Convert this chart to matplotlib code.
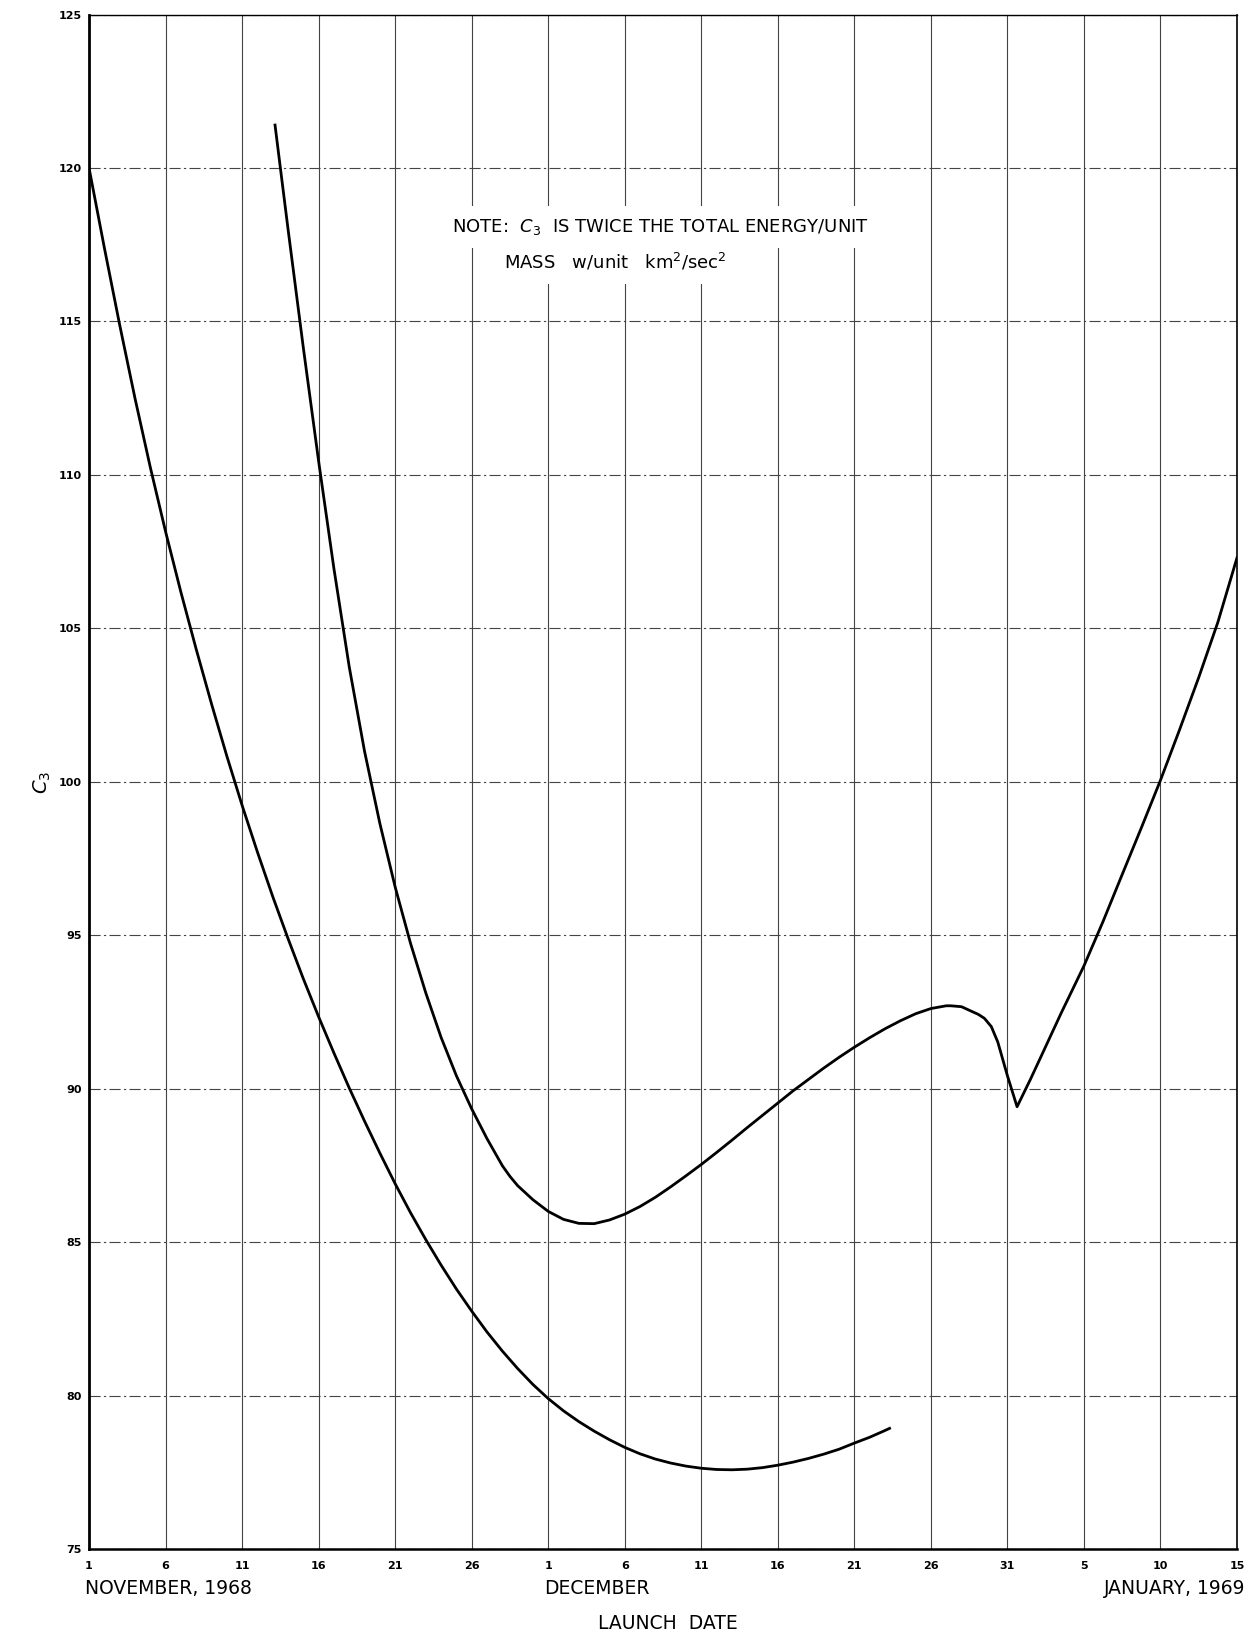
import matplotlib.pyplot as plt
import numpy as np

# days counted from Nov 1 1968 (0) to Jan 15 1969 (75)
lower_day = [0, 1, 2, 3, 4, 5, 6, 7, 8, 9, 10, 11, 12, 13, 14, 15, 16, 17, 18,
             19, 20, 21, 22, 23, 24, 25, 26, 27, 28, 29, 30, 31, 32, 33, 34, 35,
             36, 37, 38, 39, 40, 41, 42, 43, 44, 45, 46, 47, 48, 49, 50, 51, 52, 52.3]
lower_c3 = [120.0, 117.4, 114.89, 112.5, 110.25, 108.15, 106.18, 104.32, 102.54,
            100.84, 99.23, 97.71, 96.26, 94.89, 93.58, 92.34, 91.16, 90.02, 88.94,
            87.9, 86.9, 85.96, 85.08, 84.25, 83.47, 82.75, 82.07, 81.45, 80.88,
            80.36, 79.9, 79.5, 79.15, 78.84, 78.56, 78.31, 78.1, 77.93, 77.8, 77.7,
            77.63, 77.59, 77.58, 77.6, 77.65, 77.73, 77.83, 77.95, 78.09, 78.25,
            78.45, 78.64, 78.86, 78.93]

upper_day = [12.15, 12.5, 13, 14, 15, 16, 17, 18, 19, 20, 21, 22, 23, 24, 25, 26,
             27, 27.5, 28, 29, 30, 31, 32, 33, 34, 35, 36, 37, 38, 39, 40, 41, 42,
             43, 44, 45, 46, 47, 48, 49, 50, 51, 52, 53, 54, 55, 56, 56.3, 57,
             57.7, 58.1, 58.5, 58.95, 59.37, 60.0, 60.63, 61.5, 62.33, 63.5, 65,
             66.25, 67.5, 68.75, 70, 71.25, 72.5, 73.75, 75]
upper_c3 = [121.4, 120.0, 118.01, 114.14, 110.44, 106.94, 103.74, 100.99, 98.64,
            96.57, 94.74, 93.12, 91.67, 90.42, 89.34, 88.37, 87.49, 87.14, 86.84,
            86.38, 86.0, 85.74, 85.61, 85.6, 85.72, 85.91, 86.16, 86.46, 86.8,
            87.16, 87.53, 87.92, 88.32, 88.73, 89.13, 89.53, 89.93, 90.3, 90.67,
            91.02, 91.35, 91.66, 91.95, 92.21, 92.44, 92.61, 92.7, 92.7, 92.67,
            92.51, 92.42, 92.29, 92.02, 91.52, 90.42, 89.41, 90.3, 91.19, 92.45,
            94.0, 95.45, 96.98, 98.5, 100.05, 101.7, 103.4, 105.2, 107.3]

tick_days = np.arange(0, 76, 5)
tick_labels = ['1', '6', '11', '16', '21', '26', '1', '6', '11', '16', '21', '26',
               '31', '5', '10', '15']
y_ticks = np.arange(75, 126, 5)

fig = plt.figure(figsize=(12.49, 16.36), dpi=100)
ax = fig.add_axes([0.0713, 0.0532, 0.9191, 0.9379])

for d in tick_days:
    ax.axvline(d, color='#444444', lw=0.8, zorder=1)
for v in y_ticks:
    ax.axhline(v, color='#444444', lw=0.8, ls=(0, (10, 3, 2, 3)), zorder=1)

ax.plot(lower_day, lower_c3, color='black', lw=2.0, zorder=3)
ax.plot(upper_day, upper_c3, color='black', lw=2.0, zorder=3)

ax.set_xlim(0, 75)
ax.set_ylim(75, 125)
ax.set_xticks(tick_days)
ax.set_xticklabels(tick_labels, fontsize=8, fontweight='bold')
ax.set_yticks(y_ticks)
ax.set_yticklabels([str(v) for v in y_ticks], fontsize=8, fontweight='bold')
ax.tick_params(axis='x', length=0, pad=9)
ax.tick_params(axis='y', length=0, pad=5)

ax.spines['left'].set_linewidth(2.0)
ax.spines['bottom'].set_linewidth(1.8)
ax.spines['top'].set_linewidth(1.0)
ax.spines['right'].set_linewidth(1.2)

ax.text(37.3, 118.08, 'NOTE:  $C_3$  IS TWICE THE TOTAL ENERGY/UNIT',
        ha='center', va='center', fontsize=13, zorder=4,
        bbox=dict(facecolor='white', edgecolor='none', pad=8))
ax.text(34.4, 116.94, 'MASS   w/unit   km$^2$/sec$^2$',
        ha='center', va='center', fontsize=13, zorder=4,
        bbox=dict(facecolor='white', edgecolor='none', pad=8))

fig.text(0.068, 0.0293, 'NOVEMBER, 1968', ha='left', va='center', fontsize=13.5)
fig.text(0.436, 0.0293, 'DECEMBER', ha='left', va='center', fontsize=13.5)
fig.text(0.997, 0.0293, 'JANUARY, 1969', ha='right', va='center', fontsize=13.5)
fig.text(0.535, 0.0078, 'LAUNCH  DATE', ha='center', va='center', fontsize=13.5)
fig.text(0.034, 0.522, '$C_3$', ha='center', va='center', fontsize=14, rotation=90)

fig.savefig('out.png', dpi=100)
